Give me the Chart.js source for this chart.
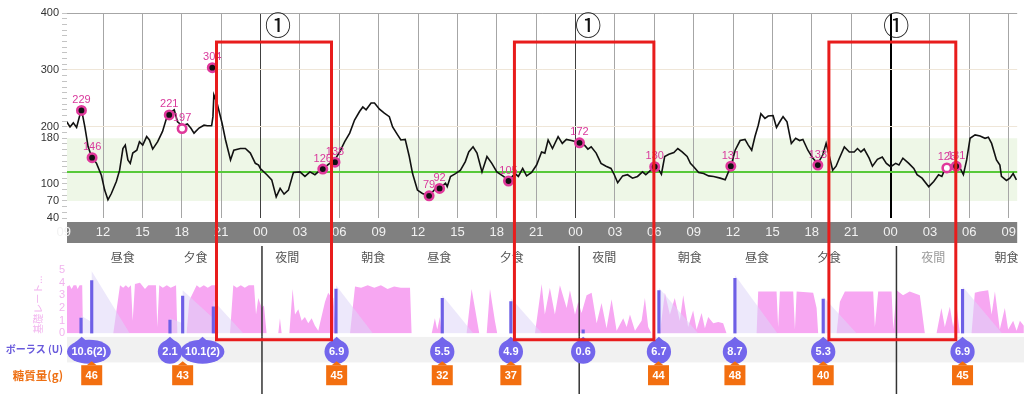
<!DOCTYPE html>
<html><head><meta charset="utf-8">
<script src="https://cdn.jsdelivr.net/npm/chart.js@4.4.1/dist/chart.umd.min.js"></script>
<style>
html,body{margin:0;padding:0;background:#fff;width:1024px;height:394px;overflow:hidden;position:relative;}
canvas{position:absolute;left:0;}
</style></head><body>
<canvas id="gl" width="1024" height="246" style="top:0"></canvas>
<canvas id="basal" width="1024" height="96" style="top:246px"></canvas>
<canvas id="bolus" width="1024" height="72" style="top:326px"></canvas>
<canvas id="ov" width="1024" height="394" style="top:0;pointer-events:none"></canvas>
<script>
// ---------- DATA ----------
const X_MIN = 9.25, X_MAX = 81.65;           // hours since day-1 00:00
const timeTicks = [9,12,15,18,21,24,27,30,33,36,39,42,45,48,51,54,57,60,63,66,69,72,75,78,81];
const glucoseTickLabels = [40,70,100,180,200,300,400];
const targetLow = 70, targetHigh = 180, targetLine = 120;
const midnightHours = [24,48,72];

const glucoseTimes = [9.23,9.48,9.73,9.98,10.23,10.36,10.61,10.86,11.12,11.50,11.87,12.12,12.37,12.63,13.01,13.26,13.51,13.69,13.89,14.07,14.26,14.57,14.77,15.02,15.32,15.53,15.78,16.16,16.53,16.79,17.04,17.42,17.67,18.05,18.42,18.68,18.93,19.31,19.69,19.94,20.27,20.37,20.44,20.69,21.07,21.33,21.71,21.96,22.46,22.84,23.22,23.60,23.85,23.98,24.48,24.85,25.19,25.49,25.79,26.12,26.50,27.00,27.38,27.76,28.14,28.39,28.77,29.27,29.65,30.03,30.41,30.79,31.16,31.54,31.79,32.04,32.42,32.68,33.06,33.43,33.81,34.06,34.44,34.69,35.02,35.33,35.58,35.95,36.33,36.84,37.34,37.71,38.09,38.22,38.47,38.85,39.23,39.60,39.86,40.19,40.49,40.87,41.25,41.62,42.00,42.51,42.89,43.39,43.64,43.97,44.27,44.65,45.03,45.41,45.66,45.91,46.24,46.67,46.99,47.30,47.68,48.05,48.30,48.68,48.94,49.19,49.57,49.94,50.32,50.70,50.95,51.21,51.59,51.96,52.34,52.72,53.10,53.35,53.73,54.03,54.36,54.54,54.79,55.11,55.49,55.79,56.12,56.50,56.75,57.00,57.38,57.76,58.14,58.52,59.02,59.40,59.65,59.83,60.16,60.54,60.91,61.16,61.42,61.67,61.92,62.12,62.43,62.68,63.05,63.31,63.56,63.81,64.11,64.44,64.77,65.07,65.32,65.70,66.08,66.46,66.84,67.09,67.34,67.59,67.85,68.10,68.48,68.86,69.23,69.48,69.74,69.99,70.37,70.62,71.00,71.37,71.68,72.01,72.39,72.64,72.94,73.39,73.77,74.02,74.40,74.91,75.29,75.66,75.91,76.17,76.55,77.05,77.31,77.55,77.80,78.06,78.44,78.82,79.20,79.45,79.70,80.07,80.33,80.45,80.83,81.09,81.34,81.59];
const glucoseValues = [209,200,207,199,221,230,200,165,148,136,115,89,72,83,104,124,162,168,142,136,154,159,174,168,183,177,161,174,192,212,224,230,209,202,205,198,189,198,203,202,202,218,256,241,206,177,142,159,162,162,154,136,133,127,116,107,77,92,82,89,120,121,113,121,116,121,127,136,142,156,174,189,212,227,235,230,242,242,231,224,218,200,186,177,178,148,118,89,83,79,92,94,101,95,113,118,124,139,156,165,154,121,148,136,121,113,106,118,113,127,114,120,133,156,154,177,162,183,171,178,176,174,172,168,161,165,154,136,131,127,116,102,114,116,110,113,121,116,124,131,124,117,148,152,155,162,156,148,136,130,120,118,114,113,110,107,121,130,159,176,178,168,159,183,203,223,215,219,220,199,209,218,209,171,180,176,178,159,145,136,151,171,148,124,131,145,165,156,156,162,156,161,145,131,143,147,136,130,136,133,145,136,127,116,110,95,104,116,113,127,130,133,127,116,142,180,186,184,180,182,171,142,133,113,106,110,118,107];

const smbgTimes  = [10.35,11.16,17.04,18.02,20.32,28.74,29.67,36.84,37.64,42.89,48.30,54.03,59.83,66.46,76.29,77.00];
const smbgValues = [229,146,221,197,304,126,138,79,92,105,172,130,131,133,128,131];
const smbgOpen   = [false,false,false,true,false,false,false,false,false,false,false,false,false,false,true,false];

const mealTimes = [13.46,18.98,25.91,32.42,37.41,42.89,49.89,56.37,61.46,66.89,74.78,80.33];
const mealNames = ['昼食','夕食','夜間','朝食','昼食','夕食','夜間','朝食','昼食','夕食','夜間','朝食'];

const basalRate = [
[9.25,3.7],[9.45,3.8],[9.6,3.5],[9.75,3.8],[9.95,3.8],[10.05,3.5],[10.2,3.8],[10.4,3.8],[10.46,0],
[12.75,0],[13.26,3.8],[13.5,3.6],[13.7,3.8],[13.9,3.6],[14.09,3.8],[14.22,1.0],[14.39,3.9],[14.77,4.0],[15.15,3.5],[15.4,3.8],[15.98,3.8],[16.08,0.5],[16.23,3.8],[16.5,3.6],[16.8,3.8],[17.1,3.6],[17.5,3.8],[17.6,0],
[18.3,0],[18.5,2.6],[19.06,3.8],[19.3,3.6],[19.6,3.8],[19.9,3.6],[20.2,3.8],[20.57,3.8],[20.69,0],
[21.58,0],[21.83,3.8],[22.1,3.6],[22.4,3.8],[22.7,3.6],[23.0,3.8],[23.4,3.8],[23.55,1.5],[23.72,2.8],[23.98,2.0],[24.15,2.2],[24.35,0],
[25.23,0],[25.36,1.2],[25.49,0],
[26.07,0],[26.32,3.5],[26.5,1.5],[26.75,1.9],[27.0,1.0],[27.25,1.3],[27.5,0.8],[27.76,1.2],[28.01,0.6],[28.26,0.2],[28.39,0.8],[28.77,2.5],[29.01,3.2],[29.14,3.0],[29.4,2.8],[29.6,0],
[30.66,0],[31.04,3.7],[31.5,3.6],[32,3.8],[32.5,3.6],[33,3.8],[33.5,3.5],[34,3.7],[34.5,3.6],[35.2,3.6],[35.32,0],
[36.84,0],[37.08,1.2],[37.26,0.3],[37.46,1.3],[37.59,0],
[39.48,0],[39.86,3.5],[40.11,2.0],[40.44,0],
[41.0,0],[41.25,3.5],[41.62,1.0],[41.8,0],
[44.65,0],[45.16,3.9],[45.4,1.5],[45.78,3.6],[46.16,1.5],[46.54,3.8],[47.05,2.0],[47.3,3.4],[47.68,1.5],[47.93,2.5],[48.18,1.6],[48.56,3.0],[48.94,3.2],[49.32,0.8],[49.69,2.4],[50.07,0.4],[50.45,2.7],[50.83,0.2],[51.33,1.2],[51.59,0.5],[51.84,1.5],[52.22,0.2],[52.72,1.0],[52.97,2.8],[53.22,0.5],[53.47,0],
[54.1,0],[54.48,3.2],[54.86,1.5],[55.23,2.8],[55.61,1.0],[55.87,3.0],[56.24,0.5],[56.62,1.8],[56.88,0.3],[57.26,1.6],[57.51,0.4],[57.76,1.3],[58.14,0.8],[58.52,0.9],[58.89,0.8],[59.15,0],
[61.42,0],[61.54,3.3],[62.93,3.3],[63.05,0.5],[63.18,3.3],[64.19,3.3],[64.32,0.3],[64.45,3.3],[65.7,3.2],[65.96,2.0],[66.08,0],
[67.47,0],[67.72,2.5],[68.1,3.3],[70.24,3.3],[70.37,0.5],[70.62,3.3],[71.63,3.3],[71.76,0.3],[72.01,3.4],[72.5,3.0],[73.0,3.3],[73.77,3.0],[74.15,0],
[75.03,0],[75.4,2.0],[75.66,0.5],[76.04,2.1],[76.29,0.5],[76.55,2.2],[76.8,0],
[77.68,0],[77.93,3.2],[78.31,3.3],[78.94,3.4],[79.2,1.5],[79.45,3.3],[79.82,0.3],[80.2,2.0],[80.45,0.3],[80.83,1.0],[81.09,0.2],[81.34,1.0],[81.64,0.6]
];
const insulinOnBoard = [
[10.31,0],[10.31,1.4],[11.12,0.9],[11.12,4.9],[14.0,0],[14.1,null],
[17.04,0],[17.04,1.2],[18.0,0.8],[18.0,3.4],[20.32,1.2],[20.32,2.6],[22.6,0],[22.7,null],
[29.6,0],[29.6,3.8],[32.4,0],[32.5,null],
[37.64,0],[37.64,3.0],[40.0,0],[40.1,null],
[42.83,0],[42.83,2.8],[45.2,0],[45.3,null],
[54.03,0],[54.03,3.6],[57.0,0],[57.1,null],
[59.78,0],[59.78,4.6],[63.0,0],[63.1,null],
[66.46,0],[66.46,2.9],[69.0,0],[69.1,null],
[77.0,0],[77.0,3.7],[80.0,0]
];
const bolusBarTimes  = [10.31,11.12,17.04,18.0,20.32,29.6,37.64,42.83,48.3,54.03,59.78,66.46,77.0];
const bolusBarValues = [1.2,4.16,1.06,2.95,2.1,3.5,2.77,2.5,0.28,3.37,4.35,2.7,3.48];
const basalTitle = '基礎レート...';

const rowNames = ['ボーラス (U)','糖質量(g)'];
const bolusTimes  = [10.36,17.04,19.5,29.65,37.64,42.83,48.30,54.03,59.78,66.46,77.0];
const bolusLabels = ['10.6(2)','2.1','10.1(2)','6.9','5.5','4.9','0.6','6.7','8.7','5.3','6.9'];
const carbTimes  = [11.12,18.0,29.65,37.64,42.83,54.0,59.78,66.46,77.0];
const carbValues = [46,43,45,32,37,44,48,40,45];

const boxStarts = [20.56,43.10,66.89];
const boxEnds   = [29.26,53.65,76.49];
const boxLabels = ['①','①','①'];
const boxTopValue = 349;        // mg/dL on the glucose axis
const boxBottomBasal = -0.5;    // U/h on the basal axis

// ---------- STYLE ----------
Chart.defaults.font.family = "'Liberation Sans', 'Noto Sans CJK JP', sans-serif";
const CJK = "'Noto Sans CJK JP', sans-serif";
const AXIS_W = 67;
const fixW = s => { s.width = AXIS_W; };
const baseOpts = {responsive:false, animation:false, devicePixelRatio:1, events:[],
  plugins:{legend:{display:false}, tooltip:{enabled:false}}};
const hiddenX = () => ({type:'linear', min:X_MIN, max:X_MAX, display:false, offset:false});

// ---------- GLUCOSE CHART ----------
const glPlugin = {
  id:'glDecor',
  beforeDraw(chart){
    const {ctx, chartArea:a, scales:{y}} = chart;
    ctx.save();
    ctx.fillStyle = '#eef7e7';
    const t = y.getPixelForValue(targetHigh), b = y.getPixelForValue(targetLow);
    ctx.fillRect(a.left, t, a.right - a.left, b - t);
    ctx.fillStyle = '#808080';
    ctx.fillRect(a.left, a.bottom + 4, a.right - a.left, 21);
    ctx.restore();
  },
  beforeDatasetsDraw(chart){
    const {ctx, chartArea:a, scales:{y}} = chart;
    const p = Math.round(y.getPixelForValue(targetLine));
    ctx.save();
    ctx.strokeStyle = '#57c93a'; ctx.lineWidth = 2;
    ctx.beginPath(); ctx.moveTo(a.left, p); ctx.lineTo(a.right, p); ctx.stroke();
    ctx.restore();
  },
  afterDatasetsDraw(chart){
    const {ctx} = chart;
    const meta = chart.getDatasetMeta(1);
    ctx.save();
    ctx.fillStyle = '#d9399c';
    ctx.font = '11px ' + Chart.defaults.font.family;
    ctx.textAlign = 'center'; ctx.textBaseline = 'bottom';
    meta.data.forEach((pt, i) => ctx.fillText(String(smbgValues[i]), pt.x, pt.y - 5));
    ctx.restore();
  }
};
const glChart = new Chart(document.getElementById('gl'), {
  type:'line',
  data:{datasets:[
    {data: glucoseTimes.map((x,i)=>({x, y:glucoseValues[i]})), borderColor:'#111', borderWidth:1.6,
     pointRadius:0, tension:0, order:2},
    {type:'scatter', data: smbgTimes.map((x,i)=>({x, y:smbgValues[i]})), order:1,
     pointRadius:4.2, pointBorderWidth:2.6, pointBorderColor:'#e0389b',
     pointBackgroundColor: c => smbgOpen[c.dataIndex] ? '#ffffff' : '#111111'}
  ]},
  options:Object.assign({}, baseOpts, {
    layout:{padding:{top:13, left:0, right:0, bottom:0}},
    scales:{
      x:{type:'linear', min:X_MIN, max:X_MAX, offset:false,
         afterBuildTicks: s => { s.ticks = timeTicks.map(v => ({value:v})); },
         afterFit: s => { s.height = 28; },
         ticks:{autoSkip:false, maxRotation:0, padding:7, color:'#f2f2f2', font:{size:13},
                callback: v => String(v % 24).padStart(2,'0')},
         grid:{drawTicks:false,
               color: c => { const v = c.tick ? c.tick.value : 0;
                 if (v < X_MIN) return 'rgba(0,0,0,0)';
                 if (v === 72) return '#000000';
                 if (v % 24 === 0) return '#404040';
                 return '#a6a6a6'; },
               lineWidth: c => (c.tick && c.tick.value === 72) ? 2 : 1},
         border:{display:false}},
      y:{min:40, max:400, afterFit: fixW,
         ticks:{stepSize:10, autoSkip:false, padding:3, color:'#333', font:{size:11},
                callback: v => glucoseTickLabels.includes(v) ? String(v) : ''},
         grid:{tickLength:5, tickColor:'#c4c4c4',
               color: c => { const v = c.tick ? c.tick.value : 0;
                 if (v === 400) return '#a6a6a6';
                 if (v === 300 || v === 200) return '#efe6d8';
                 return 'rgba(0,0,0,0)'; }},
         border:{display:false}}
    }
  }),
  plugins:[glPlugin]
});

// ---------- BASAL CHART ----------
const basalPlugin = {
  id:'basalDecor',
  afterDatasetsDraw(chart){
    const {ctx, chartArea:a, scales:{x}} = chart;
    ctx.save();
    ctx.font = '12px ' + CJK; ctx.textAlign = 'center'; ctx.textBaseline = 'middle';
    mealTimes.forEach((h, i) => {
      ctx.fillStyle = (i === 10) ? '#9a9a9a' : '#555555';
      ctx.fillText(mealNames[i], x.getPixelForValue(h), a.top - 13);
    });
    ctx.strokeStyle = '#333'; ctx.lineWidth = 1.5;
    midnightHours.forEach(h => {
      const p = x.getPixelForValue(h);
      ctx.beginPath(); ctx.moveTo(p, 0); ctx.lineTo(p, chart.height); ctx.stroke();
    });
    ctx.translate(38, (a.top + a.bottom) / 2 + 3);
    ctx.rotate(-Math.PI / 2);
    ctx.font = '10px ' + CJK; ctx.fillStyle = '#f2b5ef';
    ctx.fillText(basalTitle, 0, 0);
    ctx.restore();
  }
};
const basalChart = new Chart(document.getElementById('basal'), {
  type:'line',
  data:{datasets:[
    {data: basalRate.map(([x,y])=>({x,y})), fill:'origin', backgroundColor:'#f7a7f2', borderWidth:0,
     pointRadius:0, tension:0, order:3},
    {data: insulinOnBoard.map(([x,y])=>({x,y})), fill:'origin', backgroundColor:'rgba(222,214,248,0.55)',
     borderWidth:0, pointRadius:0, tension:0, spanGaps:false, order:2},
    {type:'bar', data: bolusBarTimes.map((x,i)=>({x, y:bolusBarValues[i]})), backgroundColor:'#6e5fe6',
     barThickness:2.5, order:1}
  ]},
  options:Object.assign({}, baseOpts, {
    layout:{padding:{top:24, bottom:8.6, left:0, right:0}},
    scales:{
      x: hiddenX(),
      y:{min:0, max:5, afterFit: fixW,
         ticks:{stepSize:1, autoSkip:false, padding:2, color:'#f1b4ee', font:{size:11}},
         grid:{display:false, drawTicks:false}, border:{display:false}}
    }
  }),
  plugins:[basalPlugin]
});

// ---------- BOLUS / CARB ROWS ----------
const rowPlugin = {
  id:'rows',
  beforeDatasetsDraw(chart){
    const {ctx, chartArea:a, scales:{x, y}} = chart;
    const mid = (y.getPixelForValue(0) + y.getPixelForValue(1)) / 2;
    ctx.save();
    ctx.fillStyle = '#f1f1f1';
    ctx.fillRect(a.left, a.top, a.right - a.left, mid - a.top);
    ctx.strokeStyle = '#333'; ctx.lineWidth = 1.5;
    midnightHours.forEach(h => {
      const p = x.getPixelForValue(h);
      ctx.beginPath(); ctx.moveTo(p, a.top); ctx.lineTo(p, chart.height); ctx.stroke();
    });
    ctx.restore();
  },
  afterDatasetsDraw(chart){
    const {ctx, chartArea:a} = chart;
    ctx.save();
    ctx.font = 'bold 11px ' + Chart.defaults.font.family;
    ctx.textAlign = 'center'; ctx.textBaseline = 'middle';
    chart.getDatasetMeta(0).data.forEach((pt, i) => {
      const txt = bolusLabels[i];
      const w = Math.max(24, ctx.measureText(txt).width + 9);
      const cx = Math.max(pt.x, a.left + w / 2);
      const cy = pt.y + 2;
      ctx.fillStyle = '#7366ec';
      ctx.beginPath(); ctx.ellipse(cx, cy, w / 2, 12, 0, 0, Math.PI * 2); ctx.fill();
      ctx.beginPath(); ctx.moveTo(pt.x - 8, cy - 8); ctx.lineTo(pt.x, cy - 15); ctx.lineTo(pt.x + 8, cy - 8); ctx.closePath(); ctx.fill();
      ctx.fillStyle = '#fff'; ctx.fillText(txt, cx, cy + 0.5);
    });
    chart.getDatasetMeta(1).data.forEach((pt, i) => {
      const cx = pt.x, cy = pt.y;
      ctx.fillStyle = '#f36f10';
      ctx.fillRect(cx - 10.5, cy - 10, 21, 20);
      ctx.beginPath(); ctx.moveTo(cx - 5, cy - 10); ctx.lineTo(cx, cy - 14); ctx.lineTo(cx + 5, cy - 10); ctx.closePath(); ctx.fill();
      ctx.fillStyle = '#fff'; ctx.fillText(String(carbValues[i]), cx, cy + 0.5);
    });
    ctx.restore();
  }
};
const bolusChart = new Chart(document.getElementById('bolus'), {
  type:'scatter',
  data:{datasets:[
    {data: bolusTimes.map(x => ({x, y:rowNames[0]})), pointRadius:0},
    {data: carbTimes.map(x => ({x, y:rowNames[1]})), pointRadius:0}
  ]},
  options:Object.assign({}, baseOpts, {
    layout:{padding:{top:0, bottom:0, left:0, right:0}},
    scales:{
      x: hiddenX(),
      y:{type:'category', labels:rowNames, offset:true, afterFit: fixW,
         ticks:{padding:4,
                font: c => ({size: c.index === 0 ? 10 : 11.5, weight:'bold', family:CJK}),
                color: c => c.index === 0 ? '#6a5bdc' : '#ee6f12'},
         grid:{display:false, drawTicks:false}, border:{display:false}}
    }
  }),
  plugins:[rowPlugin]
});

// ---------- OVERLAY: highlighted night windows ----------
const boxPlugin = {
  id:'boxes',
  afterDraw(chart){
    const {ctx, scales:{x}} = chart;
    const top = glChart.scales.y.getPixelForValue(boxTopValue);
    const bottom = 246 + basalChart.scales.y.getPixelForValue(boxBottomBasal);
    ctx.save();
    ctx.strokeStyle = '#e81c1c'; ctx.lineWidth = 3;
    ctx.font = '26px ' + CJK; ctx.textAlign = 'center'; ctx.textBaseline = 'middle';
    boxStarts.forEach((s, i) => {
      const l = x.getPixelForValue(s), r = x.getPixelForValue(boxEnds[i]);
      ctx.strokeRect(l, top, r - l, bottom - top);
      ctx.fillStyle = '#111';
      ctx.fillText(boxLabels[i], (l + r) / 2 + 4, top - 17);
    });
    ctx.restore();
  }
};
new Chart(document.getElementById('ov'), {
  type:'scatter',
  data:{datasets:[]},
  options:Object.assign({}, baseOpts, {
    layout:{padding:{left:AXIS_W, right:0, top:0, bottom:0}},
    scales:{x: hiddenX(), y:{display:false, min:0, max:1}}
  }),
  plugins:[boxPlugin]
});
</script>
</body></html>
